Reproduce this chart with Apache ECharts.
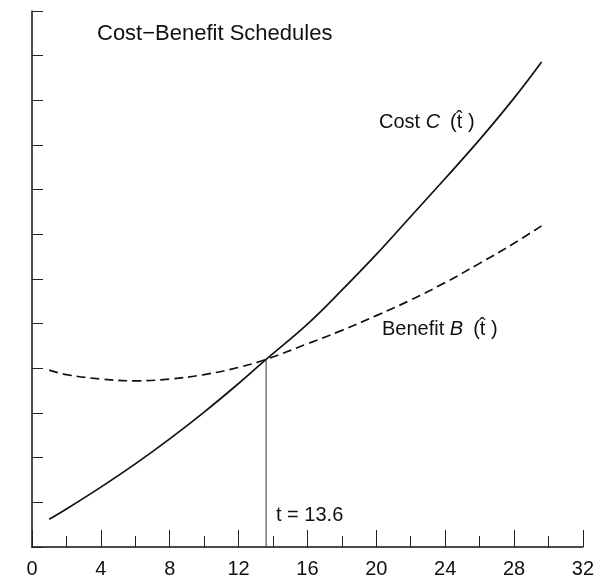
<!DOCTYPE html>
<html>
<head>
<meta charset="utf-8">
<script src="https://cdn.jsdelivr.net/npm/echarts@6/dist/echarts.min.js"></script>
<style>html,body{margin:0;padding:0;background:#fff}#c{width:597px;height:579px}</style>
</head>
<body>
<div id="c"></div>
<script>
// ---- data ----
const tValues       = [1, 2, 4, 6, 8, 10, 12, 13.6, 16, 18, 20, 22, 24, 26, 28, 29.6];
const costValues    = [0.62, 0.85, 1.34, 1.86, 2.42, 3.02, 3.66, 4.20, 4.99, 5.75, 6.55, 7.40, 8.25, 9.12, 10.05, 10.86];
const benefitValues = [3.96, 3.86, 3.76, 3.72, 3.76, 3.86, 4.02, 4.20, 4.55, 4.85, 5.18, 5.53, 5.92, 6.35, 6.80, 7.19];
const crossT = 13.6;
const crossValue = 4.2;
const titleText = 'Cost\u2212Benefit Schedules';
const crossLabel = 't = 13.6';

const costData = tValues.map((t, i) => [t, costValues[i]]);
const benefitData = tValues.map((t, i) => [t, benefitValues[i]]);
const font = '"Liberation Sans", Arial, Helvetica, sans-serif';

const chart = echarts.init(document.getElementById('c'), null, {renderer: 'canvas'});
chart.setOption({
  animation: false,
  backgroundColor: '#fff',
  grid: {left: 32, right: 14, top: 11, bottom: 30, containLabel: false},
  xAxis: {
    type: 'value', min: 0, max: 32, interval: 4,
    axisLine: {show: true, lineStyle: {color: '#111', width: 1.5}},
    axisTick: {show: true, inside: true, length: 17, lineStyle: {color: '#222', width: 1}},
    minorTick: {show: true, splitNumber: 2, length: 11, lineStyle: {color: '#222', width: 1}},
    axisLabel: {color: '#111', fontSize: 20, fontFamily: font, margin: 12},
    splitLine: {show: false}
  },
  yAxis: {
    type: 'value', min: 0, max: 12, interval: 1,
    axisLine: {show: true, lineStyle: {color: '#111', width: 1.5}},
    axisTick: {show: true, inside: true, length: 11, lineStyle: {color: '#222', width: 1}},
    axisLabel: {show: false},
    splitLine: {show: false}
  },
  series: [
    {
      type: 'line', name: 'Cost', data: costData, smooth: 0.4, symbol: 'none',
      lineStyle: {color: '#111', width: 1.7, type: 'solid'}
    },
    {
      type: 'line', name: 'Benefit', data: benefitData, smooth: 0.4, symbol: 'none',
      lineStyle: {color: '#111', width: 1.7, type: [9, 5]}
    },
    {
      type: 'line', name: 'drop', data: [[crossT, 0], [crossT, crossValue]], symbol: 'none',
      lineStyle: {color: '#333', width: 1}
    }
  ],
  graphic: [
    {type: 'text', left: 97, top: 23, style: {text: titleText, font: '22px ' + font, fill: '#111'}},
    {type: 'text', left: 379, top: 112, style: {
      text: 'Cost {i|C}\u2002(t\u0302 )', font: '20px ' + font, fill: '#111',
      rich: {i: {fontStyle: 'italic', fontSize: 20, fontFamily: font, fill: '#111'}}
    }},
    {type: 'text', left: 382, top: 319, style: {
      text: 'Benefit {i|B}\u2002(t\u0302 )', font: '20px ' + font, fill: '#111',
      rich: {i: {fontStyle: 'italic', fontSize: 20, fontFamily: font, fill: '#111'}}
    }},
    {type: 'text', left: 276, top: 505, style: {text: crossLabel, font: '20px ' + font, fill: '#111'}}
  ]
});
</script>
</body>
</html>
